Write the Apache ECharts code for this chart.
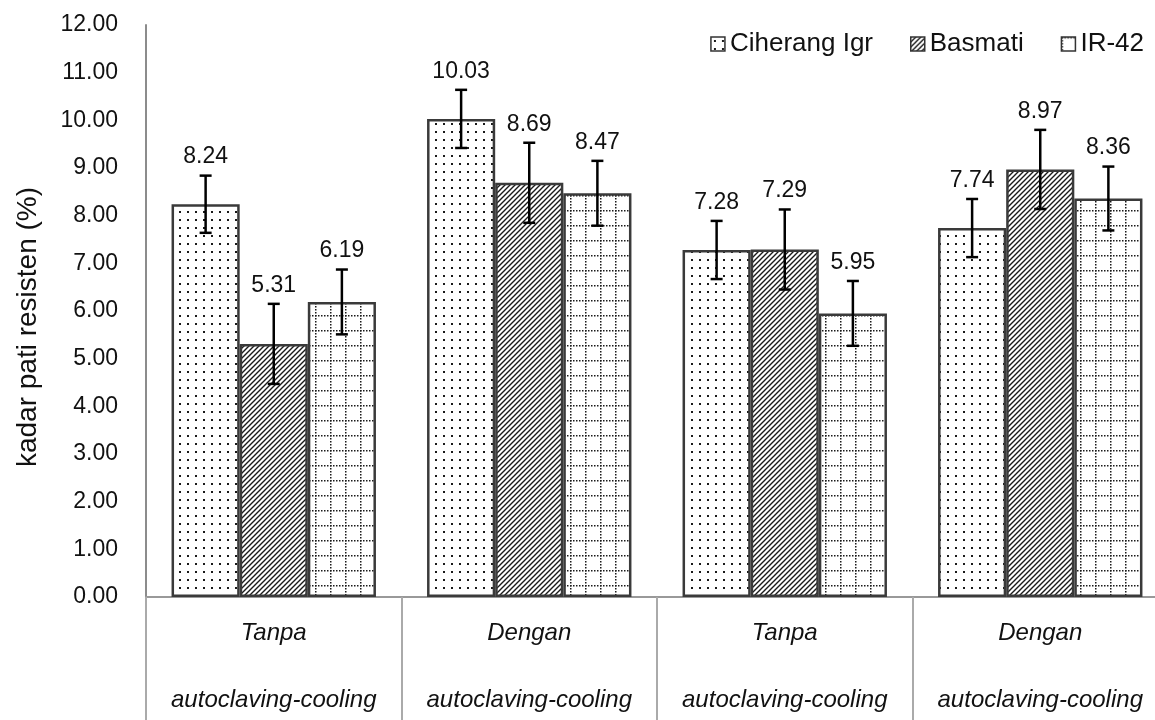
<!DOCTYPE html>
<html>
<head>
<meta charset="utf-8">
<script src="https://cdn.jsdelivr.net/npm/echarts@6/dist/echarts.min.js"></script>
<style>
html,body{margin:0;padding:0;background:#fff;}
#c{width:1155px;height:720px;}
</style>
</head>
<body>
<div id="c"></div>
<script>
// ---- data ----
var categoriesTop = ['Tanpa', 'Dengan', 'Tanpa', 'Dengan'];
var categoriesBottom = ['autoclaving-cooling', 'autoclaving-cooling', 'autoclaving-cooling', 'autoclaving-cooling'];
var seriesNames = ['Ciherang Igr', 'Basmati', 'IR-42'];
var ciherang = [8.24, 10.03, 7.28, 7.74];
var basmati = [5.31, 8.69, 7.29, 8.97];
var ir42 = [6.19, 8.47, 5.95, 8.36];
var errCiherang = [0.60, 0.61, 0.61, 0.61];
var errBasmati = [0.84, 0.84, 0.84, 0.83];
var errIr42 = [0.68, 0.68, 0.68, 0.67];
var yTicks = [0, 1, 2, 3, 4, 5, 6, 7, 8, 9, 10, 11, 12];
var yTitle = 'kadar pati resisten (%)';

var values = [ciherang, basmati, ir42];
var errs = [errCiherang, errBasmati, errIr42];

// ---- patterns ----
function mk(w, h, draw) {
  var c = document.createElement('canvas');
  c.width = w; c.height = h;
  var ctx = c.getContext('2d');
  ctx.fillStyle = '#fff';
  ctx.fillRect(0, 0, w, h);
  draw(ctx);
  return c;
}
var dotCanvas = mk(8, 8, function (ctx) {
  ctx.fillStyle = '#1a1a1a';
  ctx.fillRect(3, 3, 2, 2);
});
var diagCanvas = mk(5, 5, function (ctx) {
  ctx.strokeStyle = '#1a1a1a';
  ctx.lineWidth = 1.4;
  ctx.beginPath();
  ctx.moveTo(-1, 6); ctx.lineTo(6, -1);
  ctx.moveTo(-6, 6); ctx.lineTo(1, -1);
  ctx.moveTo(4, 6); ctx.lineTo(11, -1);
  ctx.stroke();
});
var gridCanvas = mk(15, 15, function (ctx) {
  ctx.fillStyle = '#1a1a1a';
  for (var i = 0; i < 15; i += 3) {
    ctx.fillRect(0, i, 1.5, 1.5);
    ctx.fillRect(i, 0, 1.5, 1.5);
  }
});
var patterns = [dotCanvas, diagCanvas, gridCanvas];

var FONT = '"Liberation Sans", Arial, sans-serif';

var series = [];
seriesNames.forEach(function (name, si) {
  series.push({
    type: 'bar',
    name: name,
    data: values[si],
    barGap: '0%',
    barCategoryGap: '20%',
    itemStyle: {
      color: { image: patterns[si], repeat: 'repeat' },
      borderColor: '#3a3a3a',
      borderWidth: 2.5
    },
    emphasis: { disabled: true }
  });
});
seriesNames.forEach(function (name, si) {
  series.push({
    type: 'custom',
    name: 'err' + si,
    z: 10,
    silent: true,
    data: values[si].map(function (v, i) { return [i, v, errs[si][i]]; }),
    encode: { x: 0, y: 1 },
    renderItem: function (params, api) {
      var i = api.value(0), v = api.value(1), e = api.value(2);
      var c = api.coord([i, v]);
      var catW = api.size([1, 0])[0];
      var bw = catW * 0.8 / 3;
      var x = c[0] + (si - 1) * bw;
      var top = api.coord([i, v + e])[1];
      var bot = api.coord([i, v - e])[1];
      var cap = 6;
      var ls = { stroke: '#000', lineWidth: 2.5 };
      return {
        type: 'group',
        children: [
          { type: 'line', shape: { x1: x, y1: top, x2: x, y2: bot }, style: ls },
          { type: 'line', shape: { x1: x - cap, y1: top, x2: x + cap, y2: top }, style: ls },
          { type: 'line', shape: { x1: x - cap, y1: bot, x2: x + cap, y2: bot }, style: ls },
          { type: 'text', style: { text: v.toFixed(2), x: x, y: top - 7, align: 'center', verticalAlign: 'bottom', fontSize: 23, fontFamily: FONT, fill: '#111' } }
        ]
      };
    }
  });
});

var chart = echarts.init(document.getElementById('c'));
chart.setOption({
  animation: false,
  backgroundColor: '#fff',
  textStyle: { fontFamily: FONT },
  grid: { left: 146, right: -13, top: 25, bottom: 123, containLabel: false, outerBoundsMode: 'none' },
  legend: {
    data: seriesNames,
    right: 6,
    top: 26,
    icon: 'rect',
    itemWidth: 14,
    itemHeight: 14,
    itemGap: 37,
    itemStyle: { borderWidth: 1.5, borderColor: '#333' },
    textStyle: { fontSize: 26, color: '#111', fontFamily: FONT }
  },
  xAxis: {
    type: 'category',
    data: categoriesTop.map(function (t, i) { return t + '\n' + categoriesBottom[i]; }),
    axisLine: { lineStyle: { color: '#999', width: 2 } },
    axisTick: { show: true, interval: 0, length: 125, lineStyle: { color: '#aaa', width: 2 } },
    axisLabel: { interval: 0, fontSize: 24, fontStyle: 'italic', color: '#111', lineHeight: 67, margin: 3, fontFamily: FONT },
    splitLine: { show: false }
  },
  yAxis: {
    type: 'value',
    min: yTicks[0],
    max: yTicks[yTicks.length - 1],
    interval: 1,
    name: yTitle,
    nameLocation: 'middle',
    nameGap: 104,
    nameTextStyle: { fontSize: 28, color: '#111', fontFamily: FONT, padding: [0, 32, 0, 0] },
    axisLine: { show: true, lineStyle: { color: '#8c8c8c', width: 2 } },
    axisTick: { show: false },
    splitLine: { show: false },
    axisLabel: { fontSize: 23, color: '#111', margin: 28, fontFamily: FONT, formatter: function (v) { return v.toFixed(2); } }
  },
  series: series
});
</script>
</body>
</html>
